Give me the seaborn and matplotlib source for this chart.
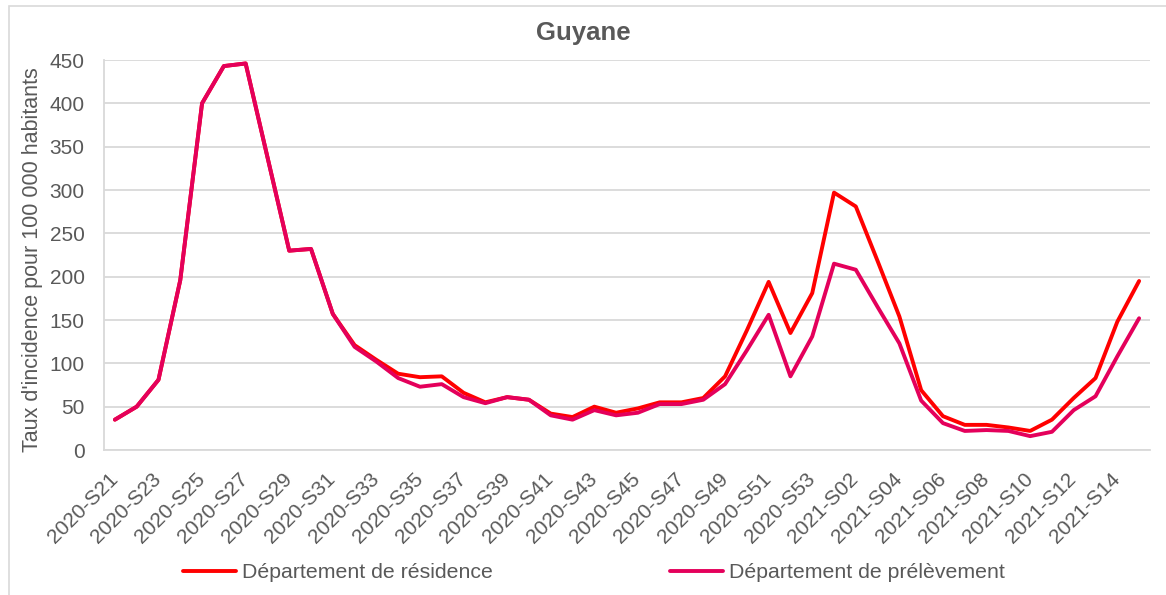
import pandas as pd
import matplotlib
matplotlib.use("Agg")
import matplotlib.pyplot as plt
import seaborn as sns
from matplotlib.patches import Rectangle
from matplotlib.ticker import FixedLocator, MultipleLocator
from matplotlib.transforms import ScaledTranslation

# semaines 2020-S21 .. 2020-S53 puis 2021-S01 .. 2021-S15
semaines = [f"2020-S{w:02d}" for w in range(21, 54)] + [f"2021-S{w:02d}" for w in range(1, 16)]

residence = [35, 50, 81, 196, 400, 443, 446, 338, 230, 232,
             157, 121, 104, 88, 84, 85, 66, 55, 61, 58,
             42, 38, 50, 43, 48, 55, 55, 60, 85, 138,
             194, 135, 181, 297, 281, 218, 154, 69, 39, 29,
             29, 26, 22, 35, 60, 83, 148, 195]

prelevement = [35, 50, 81, 196, 400, 443, 446, 338, 230, 232,
               157, 119, 102, 83, 73, 76, 61, 54, 61, 58,
               40, 35, 46, 40, 43, 53, 53, 58, 76, 115,
               156, 85, 131, 215, 208, 165, 123, 57, 31, 22,
               23, 22, 16, 21, 46, 62, 108, 152]

lab_res = "Département de résidence"
lab_pre = "Département de prélèvement"
couleurs = {lab_res: "#FF0000", lab_pre: "#E4005B"}

gris = "#595959"
gris_clair = "#d9d9d9"

sns.set_style("white")
plt.rcParams["font.family"] = ["Liberation Sans", "DejaVu Sans"]

n = len(semaines)
df = pd.DataFrame({
    "pos": list(range(n)) * 2,
    "valeur": residence + prelevement,
    "serie": [lab_res] * n + [lab_pre] * n,
})

fig = plt.figure(figsize=(11.66, 5.95), dpi=100)
ax = fig.add_axes([104 / 1166, 145 / 595, 1046 / 1166, 390 / 595])

sns.lineplot(data=df, x="pos", y="valeur", hue="serie", palette=couleurs,
             linewidth=2.8, sort=False, ax=ax)

handles, labels = ax.get_legend_handles_labels()
ax.legend_.remove()
fig.legend(handles, labels, loc="center", bbox_to_anchor=(594 / 1166, 1 - 573 / 595),
           ncol=2, frameon=False, fontsize=15.3, handlelength=2.5,
           handletextpad=0.3, columnspacing=8.3, labelcolor=gris)

ax.set_xlim(-0.5, n - 0.5)
ax.set_ylim(0, 450)
ax.yaxis.set_major_locator(MultipleLocator(50))
ax.xaxis.set_major_locator(FixedLocator(list(range(0, n, 2))))
ax.set_xticklabels(semaines[::2], rotation=45, ha="right", rotation_mode="anchor")
ax.xaxis.set_minor_locator(FixedLocator([i - 0.5 for i in range(n + 1)]))
ax.tick_params(axis="x", which="major", length=0, pad=12, labelsize=15, labelcolor=gris)
ax.tick_params(axis="x", which="minor", length=6, color=gris_clair, width=1.2)
ax.tick_params(axis="y", length=6, color=gris_clair, width=1.2, pad=8,
               labelsize=15, labelcolor=gris)
decalage = ScaledTranslation(-7 / 100, -3 / 100, fig.dpi_scale_trans)
for lbl in ax.get_xticklabels():
    lbl.set_transform(lbl.get_transform() + decalage)

ax.grid(axis="y", color=gris_clair, linewidth=1.3)
ax.set_axisbelow(True)
for s in ["top", "right"]:
    ax.spines[s].set_visible(False)
for s in ["left", "bottom"]:
    ax.spines[s].set_color(gris_clair)
    ax.spines[s].set_linewidth(1.3)

ax.set_xlabel("")
ax.set_ylabel("Taux d'incidence pour 100 000 habitants", fontsize=15.5, color=gris)
ax.yaxis.set_label_coords(-0.058, 0.487)
fig.text(0.5, 1 - 33 / 595, "Guyane", ha="center", va="center",
         fontsize=18.5, fontweight="bold", color=gris)

# bordure de la zone de graphique (coupée à droite et en bas)
fig.patches.append(Rectangle((9 / 1166, -10 / 595), 1170 / 1166, 599 / 595,
                             transform=fig.transFigure, fill=False,
                             edgecolor=gris_clair, linewidth=1.2))

fig.savefig("out.png", dpi=100)
plt.close(fig)
